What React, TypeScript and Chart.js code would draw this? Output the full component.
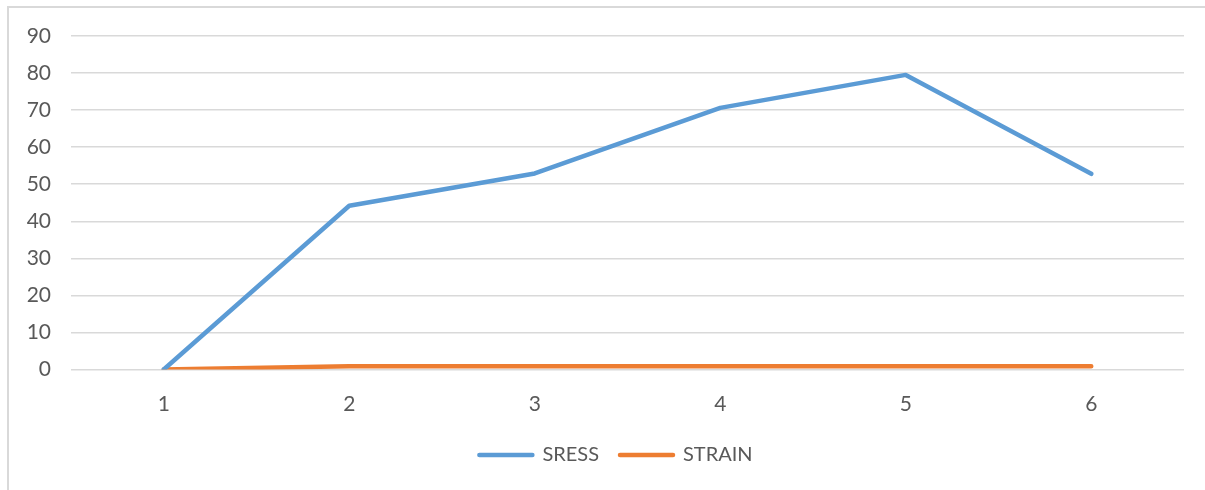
import React, { useEffect, useRef } from "react";
import { Chart, registerables } from "chart.js";

Chart.register(...registerables);

const categories = ["1", "2", "3", "4", "5", "6"];
const stressValues = [0, 44.2, 52.9, 70.6, 79.5, 52.8];
const strainValues = [0, 0.9, 0.9, 0.9, 0.9, 0.9];
const seriesNames = ["SRESS", "STRAIN"];
const seriesColors = ["#5B9BD5", "#ED7D31"];

const FONT = "Lato, 'Open Sans', sans-serif";
const TEXT = "#595959";
const GRID = "#d9d9d9";

// Nudges the legend block sideways so it sits centred under the plot.
const legendShift = {
  id: "legendShift",
  afterLayout(chart: any) {
    const lg = chart.legend;
    if (!lg) return;
    lg.left += 24;
    lg.right += 24;
  },
};

export default function App() {
  const canvasRef = useRef<HTMLCanvasElement | null>(null);

  useEffect(() => {
    if (!canvasRef.current) return;
    const seriesData = [stressValues, strainValues];
    const chart = new Chart(canvasRef.current, {
      type: "line",
      data: {
        labels: categories,
        datasets: seriesNames.map((name, i) => ({
          label: name,
          data: seriesData[i],
          borderColor: seriesColors[i],
          backgroundColor: seriesColors[i],
          borderWidth: 4.5,
          borderCapStyle: "round" as const,
          borderJoinStyle: "round" as const,
          pointRadius: 0,
          tension: 0,
          fill: false,
        })),
      },
      plugins: [legendShift],
      options: {
        responsive: false,
        animation: false,
        layout: { padding: { left: 0, right: 21, top: 36, bottom: 15 } },
        plugins: {
          tooltip: { enabled: false },
          legend: {
            position: "bottom",
            labels: {
              usePointStyle: true,
              pointStyle: "line",
              pointStyleWidth: 53,
              padding: 21,
              color: TEXT,
              font: { family: FONT, size: 20 },
              generateLabels: (c: any) =>
                c.data.datasets.map((ds: any, i: number) => ({
                  text: ds.label,
                  fillStyle: ds.borderColor,
                  strokeStyle: ds.borderColor,
                  lineWidth: 4.5,
                  lineCap: "round",
                  pointStyle: "line",
                  hidden: false,
                  datasetIndex: i,
                  fontColor: TEXT,
                })),
            },
          },
        },
        scales: {
          x: {
            offset: true,
            grid: { display: false },
            border: { display: false },
            ticks: { color: TEXT, font: { family: FONT, size: 21 }, padding: 14 },
            afterFit: (scale: any) => {
              scale.height = 54.5;
            },
          },
          y: {
            min: 0,
            max: 90,
            grid: { color: GRID, lineWidth: 1.5, drawTicks: false },
            border: { display: false },
            ticks: {
              stepSize: 10,
              color: TEXT,
              font: { family: FONT, size: 21 },
              padding: 20,
            },
            afterFit: (scale: any) => {
              scale.width = 71;
            },
          },
        },
      },
    });
    return () => chart.destroy();
  }, []);

  return (
    <div style={{ position: "absolute", left: 0, top: 0, width: 1205, height: 490, background: "#fff" }}>
      <div
        style={{
          position: "absolute",
          left: 7,
          top: 6,
          right: 0,
          bottom: 0,
          borderTop: `2px solid ${GRID}`,
          borderLeft: `2px solid ${GRID}`,
        }}
      />
      <canvas
        ref={canvasRef}
        width={1205}
        height={490}
        style={{ position: "absolute", left: 0, top: 0 }}
      />
    </div>
  );
}
